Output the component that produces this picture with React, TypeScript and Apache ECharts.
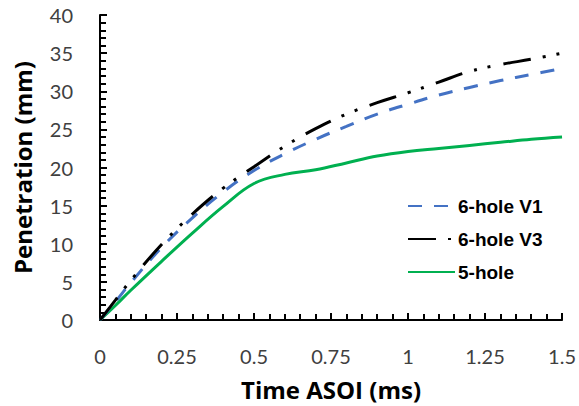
import React, { useEffect, useRef } from "react";
import * as echarts from "echarts";

const times = [0, 0.05, 0.1, 0.2, 0.3, 0.4, 0.5, 0.6, 0.7, 0.8, 0.9, 1.0, 1.1, 1.2, 1.3, 1.4, 1.5];
const v1Values = [0, 2.4, 4.9, 9.5, 13.4, 16.8, 19.6, 21.8, 23.7, 25.4, 27, 28.3, 29.5, 30.5, 31.4, 32.2, 33];
const v3Values = [0, 2.6, 5.2, 9.9, 13.9, 17.3, 20.1, 22.8, 25.1, 27, 28.5, 29.8, 31.2, 32.6, 33.5, 34.2, 35];
const fiveHoleValues = [0, 1.9, 3.9, 7.7, 11.4, 14.9, 17.9, 19.1, 19.7, 20.6, 21.5, 22.1, 22.5, 22.9, 23.3, 23.7, 24];
const seriesNames = ["6-hole V1", "6-hole V3", "5-hole"];

const pairs = (vals: number[]) => times.map((t, i) => [t, vals[i]]);

export default function App() {
  const ref = useRef<HTMLDivElement>(null);
  useEffect(() => {
    if (!ref.current) return;
    const chart = echarts.init(ref.current, null, { renderer: "svg" });
    const font = "Lato, 'Open Sans', sans-serif";
    const titleFont = "'Open Sans', Lato, sans-serif";
    const axisCommon = {
      axisLine: { show: true, lineStyle: { color: "#000", width: 2 } },
      axisTick: { show: true, inside: true, length: 7, lineStyle: { color: "#000", width: 2 } },
      minorTick: { show: true, splitNumber: 5, length: 6, lineStyle: { color: "#000", width: 2 } },
      splitLine: { show: false },
      nameLocation: "middle" as const,
      nameTextStyle: { fontFamily: titleFont, fontWeight: "bold" as const, fontSize: 24, color: "#000" },
    };
    chart.setOption({
      animation: false,
      backgroundColor: "#fff",
      grid: { left: 100, right: 16, top: 15, bottom: 86, containLabel: false },
      xAxis: {
        type: "value",
        min: 0,
        max: 1.5,
        interval: 0.25,
        name: "Time ASOI (ms)",
        nameGap: 57,
        ...axisCommon,
        axisLabel: { fontFamily: font, fontSize: 20, color: "#404040", margin: 26 },
      },
      yAxis: {
        type: "value",
        min: 0,
        max: 40,
        interval: 5,
        name: "Penetration (mm)",
        nameGap: 66,
        ...axisCommon,
        axisLabel: { fontFamily: font, fontSize: 20, color: "#404040", margin: 27 },
      },
      legend: {
        orient: "vertical",
        left: 402,
        top: 191,
        itemWidth: 47,
        itemHeight: 14,
        itemGap: 13,
        data: seriesNames,
        itemStyle: { opacity: 0 },
        textStyle: {
          fontFamily: "'Liberation Sans', Arial, sans-serif",
          fontWeight: "bold",
          fontSize: 19,
          lineHeight: 20,
          color: "#000",
          padding: [0, 0, 0, -2],
        },
      },
      series: [
        {
          name: seriesNames[0],
          type: "line",
          smooth: 0.4,
          symbol: "none",
          data: pairs(v1Values),
          itemStyle: { color: "#4472C4" },
          lineStyle: { color: "#4472C4", width: 3, type: [14, 12] },
          z: 2,
        },
        {
          name: seriesNames[1],
          type: "line",
          smooth: 0.4,
          symbol: "none",
          data: pairs(v3Values),
          itemStyle: { color: "#000" },
          lineStyle: { color: "#000", width: 3, type: [28, 12, 3, 11, 3, 13] },
          z: 3,
        },
        {
          name: seriesNames[2],
          type: "line",
          smooth: 0.4,
          symbol: "none",
          data: pairs(fiveHoleValues),
          itemStyle: { color: "#00B050" },
          lineStyle: { color: "#00B050", width: 3, type: "solid" },
          z: 1,
        },
      ],
    });
    return () => chart.dispose();
  }, []);
  return <div ref={ref} style={{ position: "fixed", left: 0, top: 0, width: 579, height: 406 }} />;
}
